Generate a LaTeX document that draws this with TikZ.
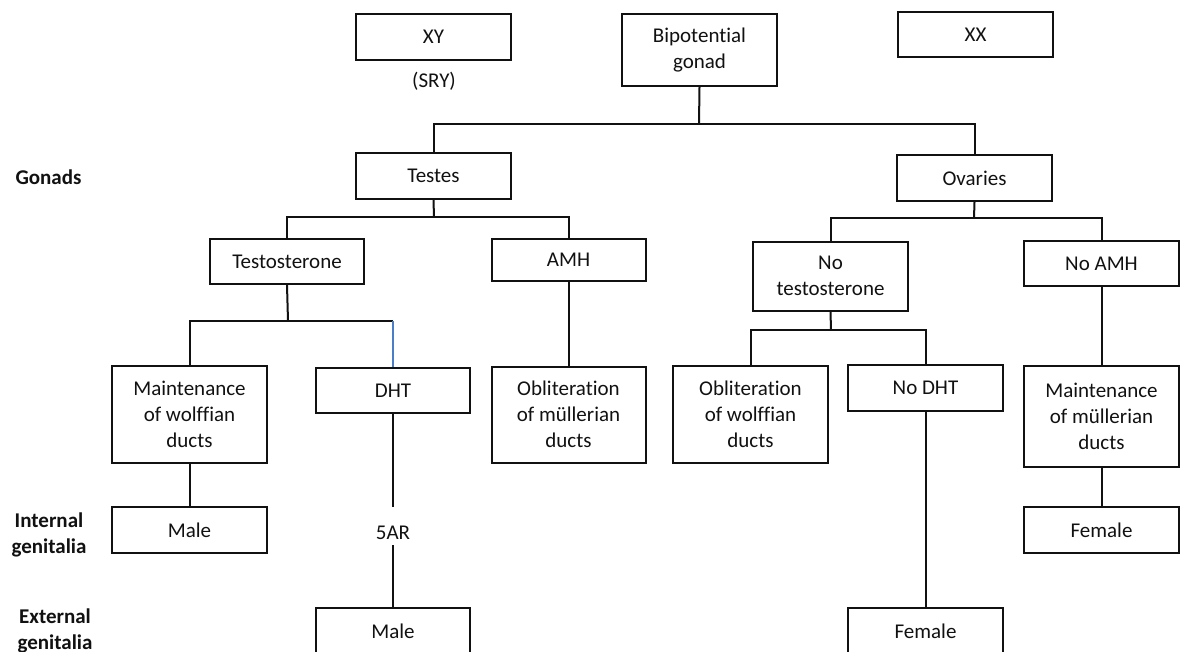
\documentclass[tikz,border=0pt]{standalone}
\usepackage{fontspec}
\setmainfont{Carlito}[Ligatures=NoCommon]
\definecolor{linkblue}{RGB}{74,126,199}
\definecolor{ink}{RGB}{17,17,17}
\begin{document}
\begin{tikzpicture}[x=1pt,y=-1pt,
  box/.style={draw=ink, line width=2pt, inner sep=0pt, align=center, text=ink,
    font=\fontsize{21}{26}\selectfont, minimum width=155pt},
  plain/.style={inner sep=0pt, align=center, text=ink, font=\fontsize{21}{26}\selectfont},
  lbl/.style={inner sep=0pt, align=center, text=ink, font=\fontsize{21}{26}\selectfont\bfseries},
  conn/.style={draw=ink, line width=2pt}]
\useasboundingbox (0,0) rectangle (1184,651);
\clip (0,0) rectangle (1184,651);

% row labels
\node[lbl] (gonads) at (48.5,177) {Gonads};
\node[lbl] (internal) at (49,535) {Internal\\genitalia};
\node[lbl] (external) at (55,631) {External\\genitalia};

% top row
\node[box, minimum height=46pt] (xy) at (433.5,37) {XY};
\node[plain] (sry) at (434,81) {(SRY)};
\node[box, minimum height=72pt] (bip) at (699.5,50) {Bipotential\\gonad};
\node[box, minimum height=45pt] (xx) at (975.5,34.5) {XX};

% gonads
\node[box, minimum height=46pt] (testes) at (433.5,176) {Testes};
\node[box, minimum height=46pt] (ovaries) at (974.5,178) {Ovaries};

% hormones
\node[box, minimum width=154pt, minimum height=45pt] (testo) at (287,261.5) {Testosterone};
\node[box, minimum width=154pt, minimum height=42pt] (amh) at (568.5,259.5) {AMH};
\node[box, minimum height=69pt] (notesto) at (830.5,276) {No\\testosterone};
\node[box, minimum height=45pt] (noamh) at (1101.5,263.5) {No AMH};

% effects
\node[box, minimum height=97pt] (maintw) at (189.5,414) {Maintenance\\of wolffian\\ducts};
\node[box, minimum width=154pt, minimum height=45pt] (dht) at (393,390.5) {DHT};
\node[box, minimum width=154pt, minimum height=96pt] (oblm) at (568.5,414.5) {Obliteration\\of müllerian\\ducts};
\node[box, minimum height=97pt] (oblw) at (750.5,414) {Obliteration\\of wolffian\\ducts};
\node[box, minimum height=46pt] (nodht) at (925.5,388) {No DHT};
\node[box, minimum height=101pt] (maintm) at (1101.5,416) {Maintenance\\of müllerian\\ducts};

% internal genitalia
\node[box, minimum height=46pt] (malei) at (189.5,530) {Male};
\node[plain] (ar) at (393,533) {5AR};
\node[box, minimum height=46pt] (femalei) at (1101.5,530) {Female};

% external genitalia
\node[box, minimum width=154pt, minimum height=46pt] (malee) at (393,631) {Male};
\node[box, minimum height=46pt] (femalee) at (925.5,631) {Female};

% junction coordinates
\coordinate (j0) at (699,124);
\coordinate (j1) at (434,217);
\coordinate (j2) at (974,218);
\coordinate (j3) at (288,321);
\coordinate (j4) at (831,330);
\coordinate (arTop) at (393,507);
\coordinate (arBot) at (393,545);

% connectors
\draw[conn] (bip.south) -- (j0);
\draw[conn] (testes.north) |- (j0) -| (ovaries.north);
\draw[conn] (testes.south) -- (j1);
\draw[conn] (testo.north) |- (j1) -| (amh.north);
\draw[conn] (ovaries.south) -- (j2);
\draw[conn] (notesto.north) |- (j2) -| (noamh.north);
\draw[conn] (testo.south) -- (j3);
\draw[conn] (maintw.north) |- (j3) -- (j3 -| dht.north);
\draw[draw=linkblue, line width=2pt] (j3 -| dht.north) -- (dht.north);
\draw[conn] (amh.south) -- (oblm.north);
\draw[conn] (notesto.south) -- (j4);
\draw[conn] (oblw.north) |- (j4) -| (nodht.north);
\draw[conn] (noamh.south) -- (maintm.north);
\draw[conn] (maintw.south) -- (malei.north);
\draw[conn] (dht.south) -- (arTop);
\draw[conn] (arBot) -- (malee.north);
\draw[conn] (nodht.south) -- (femalee.north);
\draw[conn] (maintm.south) -- (femalei.north);
\end{tikzpicture}
\end{document}
